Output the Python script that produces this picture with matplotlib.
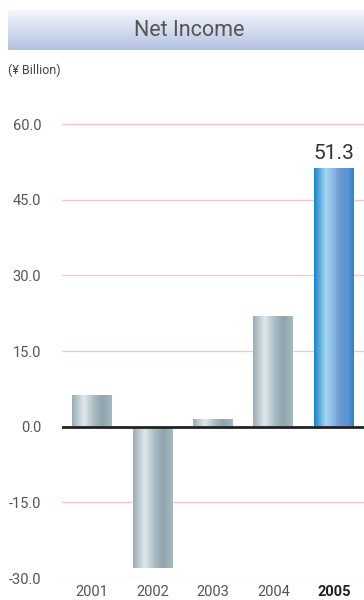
import matplotlib.pyplot as plt
import numpy as np
from matplotlib.colors import LinearSegmentedColormap

# data
years = ['2001', '2002', '2003', '2004', '2005']
net_income = [6.3, -28.1, 1.6, 22.0, 51.3]
yticks = [-30.0, -15.0, 0.0, 15.0, 30.0, 45.0, 60.0]

plt.rcParams['font.family'] = ['Roboto', 'DejaVu Sans']

fig = plt.figure(figsize=(3.64, 6.0), dpi=100)

# title banner with vertical gradient
bax = fig.add_axes([8 / 364, 1 - 50 / 600, 356 / 364, 40 / 600])
grad = np.linspace(0, 1, 100).reshape(-1, 1)
banner_cmap = LinearSegmentedColormap.from_list('ban', ['#b4c2e2', '#f4f6fb'])
bax.imshow(grad, aspect='auto', cmap=banner_cmap, extent=[0, 1, 0, 1], origin='lower')
bax.set_axis_off()
bax.text(0.51, 0.5, 'Net Income', ha='center', va='center', fontsize=15.5,
         color='#555555', transform=bax.transAxes)

fig.text(8 / 364, 1 - 70 / 600, '(\u00a5 Billion)', ha='left', va='center',
         fontsize=9, color='#444444')

# main axes
ax = fig.add_axes([62 / 364, 22 / 600, 302 / 364, 464 / 600])
ax.set_xlim(-0.5, 4.5)
ax.set_ylim(-30, 62)

for t in yticks:
    if t != 0:
        ax.axhline(t, color='#ffc4c8', lw=1.0, zorder=1)

x = np.arange(len(years))
bars = ax.bar(x, net_income, width=0.66, color='none', zorder=2)

gray_cmap = LinearSegmentedColormap.from_list('gray', [
    (0.0, '#9aaeb6'), (0.3, '#dfe9ed'), (0.55, '#a9bcc3'),
    (0.75, '#8fa4ac'), (1.0, '#a7b9c0')])
blue_cmap = LinearSegmentedColormap.from_list('blue', [
    (0.0, '#1884cc'), (0.3, '#a6d6f2'), (0.65, '#6c9bd0'),
    (0.85, '#5a96d2'), (1.0, '#2a86cc')])

hgrad = np.linspace(0, 1, 200).reshape(1, -1)
for i, b in enumerate(bars):
    x0 = b.get_x()
    w = b.get_width()
    y0 = b.get_y()
    h = b.get_height()
    cm = blue_cmap if i == len(bars) - 1 else gray_cmap
    im = ax.imshow(hgrad, aspect='auto', cmap=cm,
                   extent=[x0, x0 + w, min(y0, y0 + h), max(y0, y0 + h)],
                   zorder=2)
    im.set_clip_path(b)

ax.set_xlim(-0.5, 4.5)
ax.set_ylim(-30, 62)

ax.axhline(0, color='#222222', lw=2.0, zorder=3)

ax.text(x[-1], net_income[-1] + 1.0, '51.3', ha='center', va='bottom',
        fontsize=15, color='#333333')

ax.set_yticks(yticks)
ax.set_yticklabels(['%.1f' % t for t in yticks])
ax.set_xticks(x)
ax.set_xticklabels(years)
ax.tick_params(length=0, labelsize=10.5, colors='#555555')
ax.tick_params(axis='y', pad=15)
ax.tick_params(axis='x', pad=5)
last = ax.get_xticklabels()[-1]
last.set_fontweight('bold')
last.set_color('#222222')

for s in ax.spines.values():
    s.set_visible(False)

fig.savefig('out.png', dpi=100)
